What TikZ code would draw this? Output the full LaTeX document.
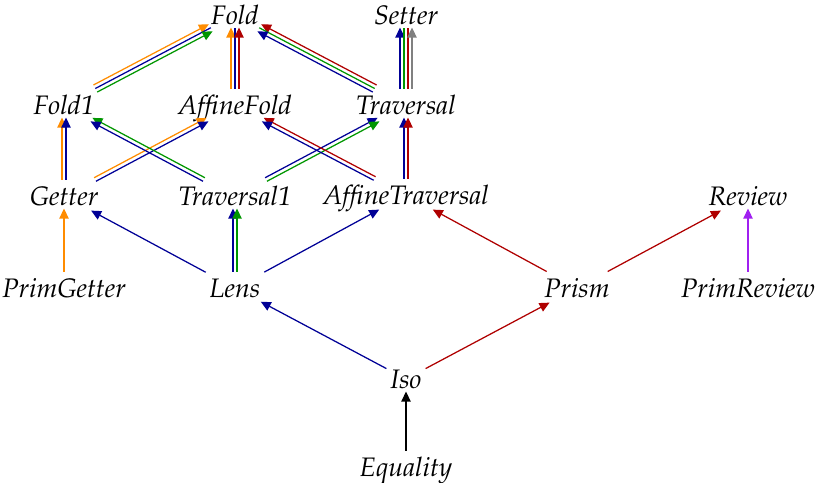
\documentclass[tikz,border=0pt]{standalone}
\usepackage[T1]{fontenc}
\usepackage{palatino}
\usetikzlibrary{arrows.meta}

\definecolor{corange}{RGB}{255,140,0}
\definecolor{cblue}{RGB}{0,0,150}
\definecolor{cred}{RGB}{175,0,0}
\definecolor{cgreen}{RGB}{0,150,0}
\definecolor{cgray}{RGB}{128,128,128}
\definecolor{cpurple}{RGB}{160,32,240}

\tikzset{
  lbl/.style={rectangle, inner xsep=1.4pt, inner ysep=0pt, text height=7.3pt,
    text depth=0pt, minimum height=12.8pt,
    font=\fontsize{10.7}{12}\selectfont\itshape},
  edge/.style={line width=0.5pt, shorten >=-1.6pt},
  withtip/.style={-{Triangle[length=4pt,width=3.7pt]}},
  notipend/.style={-},
}

% gap between the parallel strands of one relation (pt)
\def\linegap{1.6}

% \bundle{from}{to}{nx}{ny}{count}{colours}
% draws parallel strands; the first colour sits on the side of the normal (nx,ny)
\newcommand\bundle[6]{%
  \foreach \col [count=\i] in {#6}{%
    \pgfmathsetmacro\off{((#5+1)/2-\i)*\linegap}%
    \pgfmathsetmacro\dx{\off*(#3)}%
    \pgfmathsetmacro\dy{\off*(#4)}%
    \ifnum\i=1 \def\tipkind{withtip}\else
      \ifnum\i=#5 \def\tipkind{withtip}\else\def\tipkind{notipend}\fi\fi
    \draw[edge,color=\col,\tipkind,transform canvas={shift={(\dx pt,\dy pt)}}] (#1) -- (#2);
  }}

\begin{document}
\begin{tikzpicture}[x=0.4pt,y=-0.4pt]
\useasboundingbox (0,0) rectangle (817,482);

% optics
\node[lbl] (fold)     at (235,15)  {Fold};
\node[lbl] (setter)   at (406,15)  {Setter};
\node[lbl] (fold1)    at (64,105)  {Fold1};
\node[lbl] (afold)    at (235,105) {AffineFold};
\node[lbl] (trav)     at (406,105) {Traversal};
\node[lbl] (getter)   at (64,196)  {Getter};
\node[lbl] (trav1)    at (235,196) {Traversal1};
\node[lbl] (atrav)    at (406,195) {AffineTraversal};
\node[lbl] (review)   at (748,196) {Review};
\node[lbl] (pgetter)  at (64,288)  {PrimGetter};
\node[lbl] (lens)     at (235,288) {Lens};
\node[lbl] (prism)    at (577,288) {Prism};
\node[lbl] (preview)  at (748,288) {PrimReview};
\node[lbl] (iso)      at (406,379) {Iso};
\node[lbl] (equality) at (406,467) {Equality};

% multi-strand relations
\bundle{fold1}{fold}{-0.466}{0.885}{3}{corange,cblue,cgreen}
\bundle{afold}{fold}{-1}{0}{3}{corange,cblue,cred}
\bundle{trav}{fold}{0.466}{0.885}{3}{cred,cgreen,cblue}
\bundle{trav}{setter}{-1}{0}{4}{cblue,cgreen,cred,cgray}
\bundle{getter}{fold1}{-1}{0}{2}{corange,cblue}
\bundle{getter}{afold}{-0.466}{0.885}{2}{corange,cblue}
\bundle{trav1}{fold1}{0.466}{0.885}{2}{cgreen,cblue}
\bundle{trav1}{trav}{-0.466}{0.885}{2}{cblue,cgreen}
\bundle{atrav}{afold}{0.466}{0.885}{2}{cred,cblue}
\bundle{atrav}{trav}{-1}{0}{2}{cblue,cred}
\bundle{lens}{trav1}{-1}{0}{2}{cblue,cgreen}

% single relations
\draw[edge,withtip,corange] (pgetter) -- (getter);
\draw[edge,withtip,cblue]   (lens) -- (getter);
\draw[edge,withtip,cblue]   (lens) -- (atrav);
\draw[edge,withtip,cred]    (prism) -- (atrav);
\draw[edge,withtip,cred]    (prism) -- (review);
\draw[edge,withtip,cpurple] (preview) -- (review);
\draw[edge,withtip,cblue]   (iso) -- (lens);
\draw[edge,withtip,cred]    (iso) -- (prism);
\draw[edge,withtip,black]   (equality) -- (iso);
\end{tikzpicture}
\end{document}
